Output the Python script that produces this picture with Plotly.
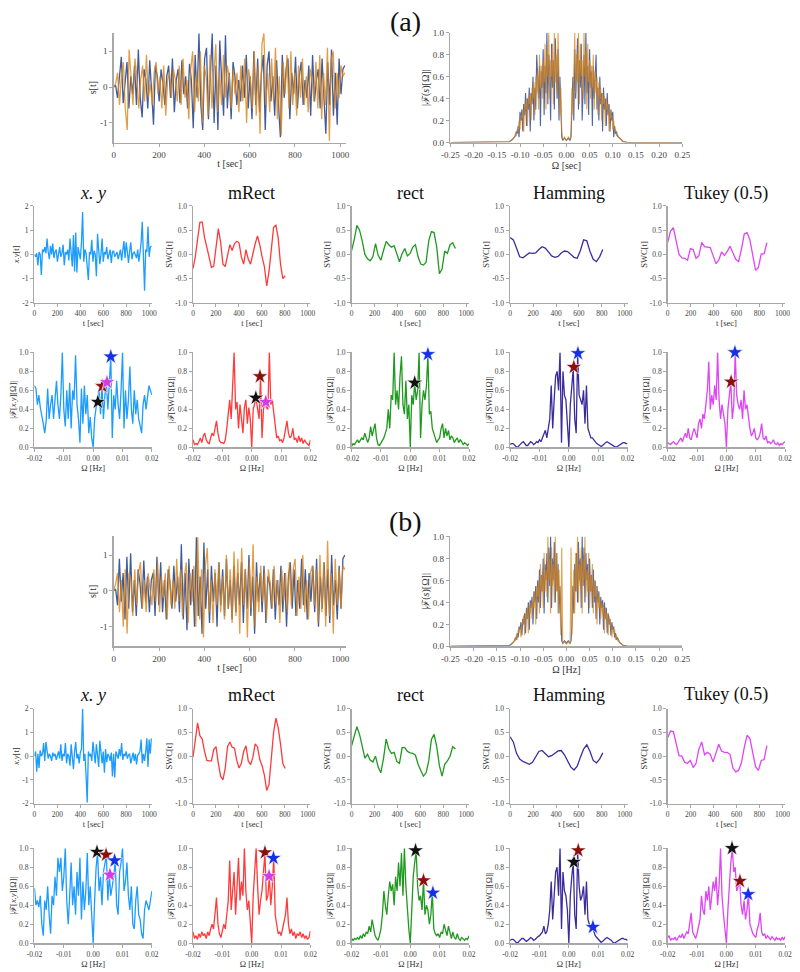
import numpy as np
import plotly.graph_objects as go

W, H = 800, 972
SERIF = "Liberation Serif"

# ---------------- data: top signals s[t] (sampled every 8 s) ----------------
a_s_blue = [0.0, 0.05, -0.3, 0.4, 0.85, -0.45, 0.2, 0.7, -0.6, 0.3, -0.2, 0.6, -0.5, 1.05, -0.3, -0.85, 0.5, 0.2, -0.6, 0.75,
            -0.1, -1.05, 0.6, 0.3, -0.4, 0.5, 0.1, -0.5, 0.3, 0.6, -0.3, 0.8, -0.7, 0.2, 0.5, -0.45, 0.75, -0.2, 0.3, -0.6,
            0.65, 0.2, -1.15, 0.9, -0.3, 1.5, -0.5, -1.2, 0.8, 1.1, -0.9, 0.3, 1.5, -1.0, 0.6, -1.2, 1.3, 0.2, -0.8, 1.45,
            -0.6, 0.4, -0.9, 0.7, 0.3, -0.5, 0.2, -0.4, 0.6, -0.3, 0.9, -0.6, 0.3, -0.9, 1.0, -0.5, 0.8, -0.7, 0.4, 0.9,
            -1.2, 0.6, 1.0, -0.4, 0.3, -0.8, 0.75, -0.5, -1.4, 0.9, -0.3, 0.5, 0.8, -0.9, 0.4, -0.2, 0.85, -0.6, 0.3, 0.7,
            -0.5, 0.2, -0.3, 0.6, -0.8, 0.9, -0.4, 0.2, 0.5, -0.6, 0.8, -0.3, -1.3, 0.7, -0.5, 1.05, -0.8, 0.4, -1.05, 0.8,
            -0.2, 0.5, 0.6]
a_s_orange = [0.0, 0.1, 0.4, -0.5, 0.3, 0.7, -0.6, -1.2, 1.05, 0.2, -0.5, 0.8, 0.3, -0.6, 0.2, 0.6, -0.4, 0.9, -0.3, 0.1,
              -0.5, 0.4, 0.7, -0.2, 0.3, -0.6, 0.6, -0.8, 0.2, 0.4, -0.3, 0.5, 0.2, -0.4, 0.6, -0.5, 0.8, -0.3, 0.2, -0.9,
              0.5, 1.0, -0.7, 0.4, -0.4, 1.0, -1.0, 0.6, 0.3, -0.8, 0.9, -0.6, 0.2, 1.2, -0.7, 0.4, -0.5, 0.9, -0.3, 0.6,
              0.3, -0.6, 0.5, -0.2, 0.4, -0.7, 0.6, -0.4, 0.8, -1.0, 0.5, 0.2, -0.6, 1.0, -0.8, 0.6, -1.3, 1.2, 1.5, -0.5,
              0.4, -0.7, 0.8, -0.4, 1.1, -0.9, 0.3, -1.35, 0.7, -0.2, 0.9, -0.6, 1.0, -0.5, 0.4, -0.8, 0.6, -0.3, 0.8, -0.5,
              0.3, -0.7, 0.5, 0.2, -0.4, 0.7, -0.6, 0.9, -0.9, 0.4, -0.5, 1.1, -1.5, 0.8, 1.0, -0.6, 0.4, -0.3, 0.6, 0.3,
              0.4]
b_s_blue = [0.0, 0.05, -0.4, 0.9, -0.3, 0.5, -0.8, 0.95, -0.5, 1.05, -0.6, 0.3, -0.7, 0.6, 0.2, -0.5, 0.85, -0.3, 0.4, -0.6,
            0.3, 0.5, -0.7, 0.95, -0.4, 0.8, -0.6, 0.3, -0.8, 0.6, 0.2, -0.5, 0.7, -0.3, 0.4, -0.6, 1.3, -0.8, 0.5, -1.1,
            0.9, -0.4, 0.6, -1.0, 1.5, -0.7, 0.4, -1.2, 1.35, -0.5, 0.6, -0.9, 0.7, -0.3, 0.5, -1.0, 0.8, -0.4, 0.6, -0.7,
            0.9, -0.5, 0.3, -0.8, 0.7, -0.6, 0.5, -0.4, 0.8, -0.9, 0.6, -0.5, 1.0, -0.7, 0.4, -1.2, 0.8, -0.3, 0.5, -0.6,
            0.7, -0.9, 0.4, 0.2, -0.5, 0.6, -0.8, 0.3, -0.4, 0.7, -0.6, 0.5, -1.0, 0.4, 0.8, -0.5, 0.6, -0.7, 0.3, -0.5,
            0.9, -0.4, 0.6, -0.8, 0.5, -0.3, 0.7, -0.6, 0.9, -1.0, 0.4, -0.5, 0.8, -0.7, 0.6, -0.9, 1.0, -0.4, 0.3, -0.8,
            0.7, -0.5, 0.9, 1.0]
b_s_orange = [0.0, 0.2, 0.5, -0.6, 0.3, -1.0, 0.6, -1.2, 0.5, 0.3, -0.7, 0.6, -0.4, 0.5, 0.8, -0.5, 0.3, -0.6, 0.5, 0.1,
              -0.4, 0.6, -0.3, 0.8, -0.6, 0.4, -0.2, 0.5, -0.8, 0.7, -0.4, 0.3, -0.5, 0.9, -0.3, 0.6, -0.7, 0.4, 0.8, -0.9,
              0.5, -0.3, 0.7, -1.0, 1.5, -0.8, 0.6, -1.3, 0.7, 1.2, -0.6, 0.3, -0.9, 0.6, -0.4, 0.8, -0.6, 0.4, -0.8, 1.0,
              -0.5, 0.6, -0.9, 1.1, -0.7, 0.9, -1.2, 1.2, -0.4, 0.6, -1.3, 0.8, -0.5, 1.3, -1.0, 0.4, -0.6, 0.7, -0.3, 0.5,
              -0.8, 0.6, 0.2, -0.5, 0.7, -0.4, 0.3, -0.9, 0.6, -0.3, 0.5, -0.6, 0.8, -0.4, 0.6, 0.9, -0.7, 0.4, -0.5, 1.0,
              -0.6, 0.3, -0.8, 0.5, 0.7, -0.4, 0.6, -0.9, 1.0, -0.6, 0.8, -1.0, 1.4, -0.7, 0.5, -1.2, 0.9, -0.4, 0.6, -0.5,
              0.7, 0.6]
s_t_end = 1020

# ---------------- data: top spectra |F(s)|, positive half 0..0.13 (step 0.002) ----------------
a_F_blue = [0.02, 0.03, 0.04, 0.03, 0.02, 0.05, 0.3, 0.6, 0.2, 0.85, 0.4, 0.7, 0.95, 0.3, 0.75, 0.5, 0.9, 0.2, 0.65, 0.8,
            0.35, 1.0, 0.45, 0.7, 0.25, 0.85, 0.5, 0.65, 0.15, 0.7, 0.4, 0.55, 0.8, 0.3, 0.5, 0.2, 0.6, 0.35, 0.45, 0.1,
            0.5, 0.3, 0.4, 0.15, 0.45, 0.25, 0.35, 0.1, 0.3, 0.2, 0.28, 0.05, 0.15, 0.08, 0.1, 0.06, 0.05, 0.04, 0.03, 0.02,
            0.015, 0.01, 0.008, 0.005, 0.003, 0.002]
a_F_orange = [0.02, 0.03, 0.05, 0.04, 0.03, 0.1, 0.5, 0.25, 0.7, 1.0, 0.45, 0.8, 0.55, 1.0, 0.35, 0.9, 0.6, 0.75, 0.4, 1.0,
              0.6, 0.85, 0.3, 0.9, 0.55, 0.75, 0.4, 0.7, 0.5, 0.8, 0.3, 0.65, 0.45, 0.6, 0.25, 0.55, 0.4, 0.5, 0.2, 0.45,
              0.35, 0.42, 0.15, 0.4, 0.3, 0.35, 0.1, 0.3, 0.22, 0.25, 0.12, 0.2, 0.1, 0.12, 0.06, 0.08, 0.05, 0.04, 0.03, 0.02,
              0.015, 0.01, 0.008, 0.005, 0.003, 0.002]
b_F_blue = [0.03, 0.04, 0.05, 0.04, 0.03, 0.05, 0.2, 0.55, 0.3, 0.75, 0.5, 0.85, 0.4, 0.95, 0.6, 0.8, 0.35, 1.0, 0.55, 0.9,
            0.4, 0.85, 0.6, 0.75, 0.3, 0.8, 0.5, 0.65, 0.35, 0.7, 0.4, 0.6, 0.25, 0.55, 0.4, 0.5, 0.2, 0.45, 0.35, 0.42,
            0.15, 0.4, 0.25, 0.35, 0.12, 0.3, 0.2, 0.25, 0.1, 0.22, 0.15, 0.18, 0.08, 0.12, 0.06, 0.08, 0.05, 0.04, 0.03, 0.02,
            0.015, 0.01, 0.008, 0.005, 0.003, 0.002]
b_F_orange = [0.02, 0.03, 0.04, 0.03, 0.02, 0.9, 0.1, 0.45, 0.7, 0.3, 0.85, 0.5, 1.0, 0.4, 0.75, 0.55, 0.9, 0.3, 0.8, 0.6,
              1.0, 0.45, 0.7, 0.5, 0.85, 0.35, 0.65, 0.5, 0.75, 0.3, 0.6, 0.45, 0.55, 0.2, 0.5, 0.35, 0.45, 0.25, 0.4, 0.3,
              0.38, 0.12, 0.35, 0.25, 0.3, 0.1, 0.28, 0.2, 0.22, 0.08, 0.18, 0.12, 0.15, 0.06, 0.1, 0.05, 0.06, 0.04, 0.03, 0.02,
              0.015, 0.01, 0.008, 0.005, 0.003, 0.002]
F_half_end = 0.13
F_tail_omega = 0.25
F_tail_value = 0.0

# ---------------- data: x.y and SWC time series ----------------
methods = ["x.y", "mRect", "rect", "Hamming", "Tukey (0.5)"]
t_end = [1020, 803, 905, 808, 865]

a_xy_t = [0.0, -0.1, 0.05, -0.45, 0.1, 0.0, -0.85, 0.2, 0.1, 0.3,
          0.05, 0.65, 0.1, -0.2, 0.35, 0.0, 0.45, -0.15, 0.1, 0.2,
          -0.3, 0.1, 0.3, -0.1, 0.05, 0.4, -0.45, 0.1, 0.0, 0.2,
          -0.25, 0.65, 0.1, -0.5, 0.8, -0.7, 0.9, -0.75, 0.3, 0.1,
          -0.2, 0.5, 1.75, -0.3, 0.2, 0.05, -0.5, -1.05, 0.1, 0.0,
          0.6, -0.3, 0.15, 0.0, -0.9, 0.85, 0.2, -0.4, 0.0, 0.65,
          -0.3, 0.1, 0.0, 0.3, -0.2, 0.05, 0.2, -0.35, 0.1, 0.15,
          -0.1, 0.0, 0.1, -0.2, 0.05, 0.2, -0.25, 0.1, 0.55, -0.15,
          0.5, 0.1, -0.35, 0.15, 0.5, -0.2, 0.05, 0.1, 0.0, -0.15,
          0.2, -0.3, 0.05, 0.5, 1.35, -0.2, -1.5, 0.2, 0.1, 1.15,
          -0.1, 0.3, 0.35]
a_mrect_t = [-0.29, -0.05, 0.32, 0.66, 0.67, 0.35, 0.15, -0.1, -0.27, -0.24, 0.15, 0.53, 0.25, -0.2, -0.25, -0.05, 0.2,
             0.08, 0.22, 0.27, 0.24, -0.05, -0.2, 0.1, -0.1, -0.2, 0.02, 0.22, 0.38, 0.2, -0.05, -0.25, -0.65, -0.36, 0.1,
             0.56, 0.6, 0.34, -0.2, -0.5, -0.44]
a_rect_t = [0.08, 0.3, 0.6, 0.5, 0.28, 0.0, -0.09, -0.13, -0.05, 0.22, -0.02, -0.12, 0.08, 0.27, 0.2, 0.15, 0.18, 0.01,
            -0.15, 0.02, 0.12, -0.03, 0.02, 0.15, 0.2, -0.05, -0.2, -0.22, -0.16, 0.28, 0.47, 0.45, 0.15, -0.4, -0.3, 0.07,
            0.02, 0.2, 0.24, 0.12]
a_hamming_t = [0.35, 0.3, 0.13, -0.05, -0.07, -0.02, 0.03, 0.02, 0.03, 0.1, 0.16, 0.13, 0.06, -0.03, -0.06, -0.04, 0.03,
               0.07, 0.06, 0.0, -0.06, -0.08, 0.08, 0.3, 0.28, 0.06, -0.1, -0.15, -0.05, 0.1]
a_tukey_t = [0.25, 0.48, 0.55, 0.3, 0.0, -0.07, -0.08, -0.12, 0.12, 0.1, -0.08, -0.03, 0.25, 0.16, 0.15, 0.14, -0.02, -0.19,
             -0.12, 0.05, -0.02, 0.06, 0.17, 0.05, -0.1, -0.15, 0.1, 0.42, 0.45, 0.3, -0.02, -0.33, -0.27, 0.01, 0.01, 0.24]

b_xy_t = [0.0, 0.2, -0.65, 0.1, -0.5, 0.25, 0.0, 0.1, 0.55, -0.2,
          0.6, 0.3, -0.1, 0.1, 0.0, -0.2, 0.15, 0.0, 0.1, -0.15,
          0.05, 0.2, -0.1, 0.5, -0.2, 0.1, 0.0, 0.55, -0.3, 0.1,
          0.0, -0.4, 0.5, -0.1, -0.55, 0.2, 0.6, -0.1, 0.1, -0.3,
          0.15, 0.3, 2.0, -0.2, 0.1, -0.8, -1.95, 0.2, 0.0, 0.1,
          -0.2, 0.6, 0.0, -0.3, 0.5, 0.1, -0.45, 0.65, 0.1, -0.3,
          0.2, -0.7, 0.3, -0.25, 0.1, 0.0, -0.2, 0.15, -0.85, 0.1,
          -0.9, 0.2, 0.05, -0.1, 0.3, 0.0, 0.55, -0.15, 0.1, 0.0,
          0.2, -0.1, 0.05, 0.1, -0.3, 0.0, 0.15, -0.2, 0.1, -0.35,
          0.05, 0.1, 0.2, 0.7, -0.3, 0.1, -0.2, 0.2, 0.75, -0.45,
          0.7, 0.1, 0.75]
b_mrect_t = [-0.02, 0.39, 0.7, 0.43, 0.36, 0.1, -0.09, -0.1, -0.1, 0.14, 0.2, -0.15, -0.42, -0.5, -0.25, 0.2, 0.3, 0.19,
             0.17, -0.09, -0.25, -0.15, 0.1, 0.22, -0.1, -0.18, -0.02, 0.26, 0.2, -0.07, -0.2, -0.4, -0.72, -0.6, 0.0, 0.5,
             0.8, 0.6, 0.26, -0.15, -0.26]
b_rect_t = [0.22, 0.4, 0.62, 0.46, 0.24, -0.04, 0.04, -0.08, -0.12, 0.0, -0.23, -0.35, -0.05, 0.36, 0.15, 0.06, 0.08, -0.11,
            -0.15, 0.18, 0.18, 0.1, 0.07, 0.06, 0.02, -0.17, -0.3, -0.42, -0.35, -0.1, 0.35, 0.46, 0.2, -0.2, -0.42, -0.17,
            -0.1, 0.0, 0.2, 0.15]
b_hamming_t = [0.41, 0.3, 0.06, -0.06, -0.11, -0.14, -0.17, -0.13, -0.02, 0.1, 0.12, 0.05, -0.01, 0.01, 0.07, 0.11, 0.12,
               0.03, -0.1, -0.23, -0.29, -0.21, -0.02, 0.15, 0.24, 0.1, -0.09, -0.14, -0.06, 0.07]
b_tukey_t = [0.39, 0.53, 0.52, 0.25, 0.01, 0.0, -0.13, -0.15, -0.09, -0.24, -0.15, 0.15, 0.3, 0.03, 0.08, 0.04, -0.12, 0.06,
             0.25, 0.11, 0.08, 0.08, 0.04, -0.25, -0.33, -0.3, -0.14, 0.18, 0.44, 0.37, 0.07, -0.22, -0.3, -0.09, -0.07, 0.22]

# ---------------- data: spectra, Omega = -0.02..0.02 step 0.0005 ----------------
a_xy_F = [0.65, 0.62, 0.45, 0.55, 0.42, 0.35, 0.25, 0.15, 0.28, 0.62, 0.3, 0.45, 0.55, 0.3, 0.5, 0.7, 0.45, 0.3, 0.55, 1.0,
          0.4, 0.22, 0.6, 0.3, 0.68, 0.2, 0.6, 0.5, 0.97, 0.45, 0.3, 0.05, 0.62, 0.25, 0.65, 0.35, 0.55, 0.15, 0.32, 0.1,
          0.0, 0.3, 0.42, 0.48, 0.6, 0.35, 0.64, 0.3, 0.55, 0.68, 0.4, 0.7, 0.955, 0.1, 0.55, 0.4, 0.7, 0.45, 0.3, 0.6,
          1.0, 0.2, 0.6, 0.3, 0.5, 0.85, 0.4, 0.25, 0.6, 0.35, 0.5, 0.3, 0.2, 0.15, 0.45, 0.55, 0.4, 0.5, 0.65, 0.6, 0.55]
a_mrect_F = [0.08, 0.03, 0.04, 0.03, 0.06, 0.1, 0.05, 0.12, 0.15, 0.08, 0.05, 0.04, 0.1, 0.15, 0.12, 0.2, 0.28, 0.15, 0.07,
             0.05, 0.05, 0.04, 0.08, 0.2, 0.35, 0.5, 0.3, 0.6, 1.0, 0.4, 0.48, 0.2, 0.45, 0.3, 0.15, 0.42, 0.5, 0.25, 0.42,
             0.3, 0.0, 0.4, 0.45, 0.52, 0.4, 0.3, 0.75, 0.1, 0.4, 0.48, 0.42, 0.4, 1.0, 0.45, 0.5, 0.38, 0.2, 0.1, 0.12, 0.07,
             0.08, 0.05, 0.1, 0.18, 0.28, 0.15, 0.1, 0.12, 0.2, 0.08, 0.1, 0.05, 0.12, 0.06, 0.1, 0.04, 0.08, 0.05, 0.03,
             0.02, 0.08]
a_rect_F = [0.01, 0.04, 0.03, 0.06, 0.08, 0.05, 0.07, 0.1, 0.08, 0.15, 0.1, 0.05, 0.1, 0.22, 0.12, 0.2, 0.25, 0.1, 0.03, 0.02,
            0.05, 0.08, 0.1, 0.15, 0.2, 0.4, 0.2, 0.55, 0.5, 1.0, 0.45, 0.6, 0.4, 0.75, 0.96, 0.45, 0.35, 0.7, 0.3, 0.45,
            0.0, 0.55, 0.45, 0.68, 0.5, 0.6, 1.0, 0.1, 0.45, 0.6, 0.5, 0.65, 0.97, 0.35, 0.38, 0.2, 0.15, 0.12, 0.05, 0.08,
            0.1, 0.2, 0.25, 0.1, 0.2, 0.12, 0.18, 0.08, 0.12, 0.1, 0.05, 0.08, 0.1, 0.05, 0.08, 0.06, 0.03, 0.05, 0.03, 0.02,
            0.04]
a_hamming_F = [0.03, 0.04, 0.04, 0.02, 0.01, 0.0, 0.02, 0.04, 0.05, 0.06, 0.04, 0.02, 0.02, 0.04, 0.06, 0.05, 0.03, 0.04,
               0.06, 0.05, 0.08, 0.06, 0.1, 0.15, 0.18, 0.1, 0.2, 0.3, 0.65, 0.2, 0.5, 0.75, 0.8, 0.6, 1.0, 0.05, 0.8, 0.55,
               0.5, 0.3, 0.0, 0.45, 0.7, 0.83, 0.3, 0.15, 0.98, 0.55, 0.5, 0.45, 0.6, 0.25, 0.65, 0.2, 0.15, 0.1, 0.1, 0.08,
               0.05, 0.04, 0.03, 0.02, 0.01, 0.02, 0.04, 0.05, 0.06, 0.05, 0.04, 0.03, 0.02, 0.01, 0.0, 0.01, 0.02, 0.03,
               0.04, 0.05, 0.05, 0.04, 0.04]
a_tukey_F = [0.05, 0.04, 0.03, 0.05, 0.06, 0.04, 0.03, 0.05, 0.08, 0.1, 0.06, 0.12, 0.15, 0.1, 0.2, 0.1, 0.08, 0.15, 0.2,
             0.15, 0.1, 0.25, 0.3, 0.2, 0.35, 0.3, 0.45, 0.6, 0.9, 0.4, 0.55, 0.45, 0.65, 0.5, 1.0, 0.5, 0.3, 0.45, 0.35,
             0.25, 0.0, 0.4, 0.55, 0.68, 0.3, 0.45, 1.0, 0.55, 0.45, 0.4, 0.5, 0.3, 0.6, 0.4, 0.45, 0.3, 0.2, 0.12, 0.15,
             0.2, 0.1, 0.08, 0.1, 0.15, 0.25, 0.1, 0.08, 0.12, 0.05, 0.06, 0.04, 0.05, 0.08, 0.04, 0.03, 0.05, 0.02, 0.04,
             0.03, 0.05, 0.06]

b_xy_F = [0.58, 0.4, 0.45, 0.38, 0.5, 0.2, 0.08, 0.45, 0.35, 0.6, 0.3, 0.1, 0.5, 0.4, 0.7, 0.5, 0.9, 0.75, 0.9, 0.55,
          0.7, 1.0, 0.45, 0.2, 0.5, 0.85, 0.4, 0.6, 0.3, 0.75, 0.5, 0.9, 0.25, 0.65, 0.35, 0.55, 0.95, 0.4, 0.6, 0.2,
          0.0, 0.45, 0.8, 0.95, 0.55, 0.7, 0.4, 0.75, 0.85, 0.93, 0.45, 0.72, 0.5, 0.6, 0.7, 0.87, 0.4, 0.3, 0.75, 0.85,
          1.0, 0.55, 0.65, 0.85, 0.5, 0.35, 0.6, 0.2, 0.15, 0.45, 0.6, 0.3, 0.25, 0.1, 0.05, 0.35, 0.45, 0.4, 0.35, 0.45,
          0.55]
b_mrect_F = [0.12, 0.05, 0.08, 0.04, 0.1, 0.06, 0.12, 0.08, 0.1, 0.05, 0.12, 0.08, 0.15, 0.2, 0.15, 0.3, 0.48, 0.2, 0.1,
             0.06, 0.12, 0.2, 0.15, 0.3, 0.45, 0.87, 0.35, 0.55, 0.75, 0.3, 0.6, 0.9, 0.45, 0.65, 0.5, 1.0, 0.55, 0.35,
             0.45, 0.25, 0.0, 0.5, 0.7, 1.0, 0.6, 0.3, 0.45, 0.55, 0.75, 0.95, 0.45, 0.5, 0.7, 0.4, 0.6, 0.9, 0.3, 0.2, 0.1,
             0.12, 0.08, 0.15, 0.25, 0.3, 0.48, 0.2, 0.1, 0.15, 0.08, 0.12, 0.05, 0.1, 0.08, 0.12, 0.06, 0.1, 0.05, 0.08,
             0.04, 0.06, 0.13]
b_rect_F = [0.05, 0.03, 0.05, 0.04, 0.06, 0.04, 0.08, 0.05, 0.1, 0.07, 0.12, 0.1, 0.18, 0.12, 0.25, 0.15, 0.08, 0.05, 0.03,
            0.08, 0.15, 0.3, 0.55, 0.4, 0.3, 0.5, 0.65, 0.55, 0.62, 0.4, 0.7, 0.55, 0.85, 0.6, 0.95, 0.5, 1.0, 0.6, 0.3,
            0.15, 0.0, 0.4, 0.7, 0.85, 0.97, 0.6, 0.45, 0.5, 0.35, 0.66, 0.3, 0.4, 0.35, 0.2, 0.3, 0.53, 0.15, 0.1, 0.08,
            0.1, 0.06, 0.12, 0.1, 0.2, 0.12, 0.08, 0.18, 0.1, 0.05, 0.12, 0.06, 0.04, 0.1, 0.05, 0.03, 0.06, 0.04, 0.03,
            0.05, 0.04, 0.08]
b_hamming_F = [0.03, 0.04, 0.04, 0.03, 0.01, 0.0, 0.02, 0.04, 0.05, 0.05, 0.03, 0.02, 0.03, 0.05, 0.06, 0.05, 0.03, 0.04,
               0.06, 0.07, 0.08, 0.1, 0.12, 0.18, 0.1, 0.12, 0.2, 0.35, 0.65, 0.25, 0.55, 0.75, 0.8, 0.5, 1.0, 0.15, 0.75,
               0.55, 0.5, 0.35, 0.0, 0.5, 0.7, 0.85, 0.3, 0.15, 0.97, 0.6, 0.45, 0.5, 0.6, 0.3, 0.65, 0.25, 0.2, 0.15, 0.17,
               0.12, 0.08, 0.06, 0.04, 0.02, 0.01, 0.02, 0.04, 0.05, 0.06, 0.05, 0.04, 0.03, 0.01, 0.0, 0.01, 0.02, 0.03,
               0.04, 0.05, 0.05, 0.04, 0.04, 0.03]
b_tukey_F = [0.06, 0.08, 0.03, 0.05, 0.04, 0.06, 0.03, 0.05, 0.08, 0.06, 0.1, 0.05, 0.08, 0.12, 0.1, 0.2, 0.32, 0.12, 0.08,
             0.05, 0.1, 0.2, 0.25, 0.5, 0.35, 0.3, 0.55, 0.45, 0.6, 0.35, 0.5, 0.65, 0.55, 0.7, 0.4, 0.6, 1.0, 0.5, 0.3,
             0.15, 0.0, 0.35, 0.65, 0.85, 1.0, 0.75, 0.8, 0.55, 0.6, 0.66, 0.4, 0.3, 0.45, 0.25, 0.35, 0.52, 0.2, 0.15, 0.1,
             0.08, 0.06, 0.15, 0.2, 0.32, 0.12, 0.08, 0.1, 0.05, 0.08, 0.06, 0.04, 0.07, 0.05, 0.03, 0.06, 0.04, 0.05, 0.03,
             0.06, 0.04, 0.07]
omega_lo, omega_hi = -0.02, 0.02

# ---------------- data: star markers (colour, Omega, |F|) per spectrum panel ----------------
a_stars = [
    [("blue", 0.0060, 0.955), ("darkred", 0.0031, 0.644), ("magenta", 0.0047, 0.685), ("black", 0.0016, 0.478)],
    [("blue", 0.0059, 1.01), ("darkred", 0.0028, 0.747), ("black", 0.0014, 0.522), ("magenta", 0.0048, 0.478)],
    [("darkred", 0.0031, 1.02), ("blue", 0.0060, 0.98), ("black", 0.0015, 0.68)],
    [("blue", 0.0031, 0.99), ("darkred", 0.0017, 0.845)],
    [("blue", 0.0029, 1.0), ("darkred", 0.0016, 0.69)],
]
b_stars = [
    [("black", 0.0013, 0.96), ("darkred", 0.0044, 0.93), ("blue", 0.0073, 0.87), ("magenta", 0.0057, 0.72)],
    [("black", 0.0017, 1.01), ("darkred", 0.0045, 0.955), ("blue", 0.0074, 0.896), ("magenta", 0.0059, 0.706)],
    [("black", 0.0018, 0.976), ("darkred", 0.0045, 0.66), ("blue", 0.0077, 0.53)],
    [("black", 0.0017, 0.855), ("darkred", 0.0032, 0.976), ("blue", 0.0082, 0.17)],
    [("black", 0.0019, 1.0), ("darkred", 0.0046, 0.654), ("blue", 0.0074, 0.515)],
]

# ---------------- styles ----------------
line_colors = ["#1c9cff", "#ff3a3a", "#1f991f", "#3b2c9e", "#de45f4"]
star_colors = {"blue": "#1530e6", "darkred": "#8a0f0f", "black": "#111111", "magenta": "#d23be6"}
sig_blue, sig_orange = "#1f3e8c", "#d9861a"

col_left = [26, 188, 350, 512, 673]
col_w = 120

fig = go.Figure()
layout = dict(width=W, height=H, margin=dict(l=0, r=0, t=0, b=0), paper_bgcolor="white",
              plot_bgcolor="white", showlegend=False, font=dict(family=SERIF, color="#444"))
annotations = []
axis_count = [0]


def fmt(v, d):
    return f"{v:.{d}f}"


def add_axes(x0, x1, y0, y1, xr, yr, xtv, xd, ytv, yd, xtitle, ytitle, fs, tfs):
    axis_count[0] += 1
    n = axis_count[0]
    s = "" if n == 1 else str(n)
    common = dict(showline=True, linecolor="#a8a8a8", linewidth=1.5, ticks="outside", ticklen=3,
                  tickcolor="#a8a8a8", tickwidth=1, showgrid=False, zeroline=False, fixedrange=True,
                  tickfont=dict(size=fs, family=SERIF, color="#444"))
    layout["xaxis" + s] = dict(domain=[x0 / W, x1 / W], anchor="y" + s, range=xr, tickvals=xtv,
                               ticktext=[fmt(v, xd) for v in xtv],
                               title=dict(text=xtitle, font=dict(size=tfs, family=SERIF, color="#333"), standoff=1),
                               **common)
    layout["yaxis" + s] = dict(domain=[1 - y1 / H, 1 - y0 / H], anchor="x" + s, range=yr, tickvals=ytv,
                               ticktext=[fmt(v, yd) for v in ytv],
                               title=dict(text=ytitle, font=dict(size=tfs, family=SERIF, color="#333"), standoff=1),
                               **common)
    return "x" + s, "y" + s


def mirror(half):
    half = list(half)
    f = list(np.linspace(0, F_half_end, len(half)))
    xs = [-F_tail_omega] + [-v for v in f[::-1]] + f[1:] + [F_tail_omega]
    ys = [F_tail_value] + half[::-1] + half[1:] + [F_tail_value]
    return xs, ys


def top_block(y0, y1, blue, orange, Fb, Fo, om_label):
    xa, ya = add_axes(107, 344, y0, y1, [0, 1024], [-1.55, 1.52], [0, 200, 400, 600, 800, 1000], 0,
                      [-1, 0, 1], 0, "t [sec]", "s[t]", 9, 10)
    tb = np.linspace(0, s_t_end, len(blue))
    to = np.linspace(0, s_t_end, len(orange))
    fig.add_trace(go.Scatter(x=tb, y=blue, mode="lines", line=dict(color=sig_blue, width=1.3),
                             opacity=0.85, xaxis=xa, yaxis=ya))
    fig.add_trace(go.Scatter(x=to, y=orange, mode="lines", line=dict(color=sig_orange, width=1.3),
                             opacity=0.8, xaxis=xa, yaxis=ya))
    xb, yb = add_axes(451, 688, y0, y1, [-0.25, 0.25], [0, 1],
                      [-0.25, -0.2, -0.15, -0.1, -0.05, 0.0, 0.05, 0.1, 0.15, 0.2, 0.25], 2,
                      [0, 0.2, 0.4, 0.6, 0.8, 1.0], 1, om_label, "|ℱ(<i>s</i>)[Ω]|", 9, 10)
    fx, fy = mirror(Fb)
    fig.add_trace(go.Scatter(x=fx, y=fy, mode="lines", line=dict(color=sig_blue, width=1.1),
                             opacity=0.8, xaxis=xb, yaxis=yb))
    fx, fy = mirror(Fo)
    fig.add_trace(go.Scatter(x=fx, y=fy, mode="lines", line=dict(color=sig_orange, width=1.1),
                             opacity=0.75, xaxis=xb, yaxis=yb))


def column_rows(yt0, yt1, yf0, yf1, title_y, series_t, series_F, stars):
    om = np.linspace(omega_lo, omega_hi, len(series_F[0]))
    for k in range(5):
        x0 = col_left[k]
        x1 = x0 + col_w
        if k == 0:
            yr, ytv, yd, ytitle = [-2, 2], [-2, -1, 0, 1, 2], 0, "<i>x.y</i>[t]"
        else:
            yr, ytv, yd, ytitle = [-1, 1], [-1.0, -0.5, 0.0, 0.5, 1.0], 1, "SWC[t]"
        xa, ya = add_axes(x0, x1, yt0, yt1, [0, 1024], yr, [0, 200, 400, 600, 800, 1000], 0, ytv, yd,
                          "t [sec]", ytitle, 7.5, 8.5)
        vals = series_t[k]
        t = np.linspace(0, t_end[k], len(vals))
        fig.add_trace(go.Scatter(x=t, y=vals, mode="lines", line=dict(color=line_colors[k], width=1.3),
                                 xaxis=xa, yaxis=ya))
        ftitle = "|ℱ[<i>x.y</i>][Ω]|" if k == 0 else "|ℱ[SWC][Ω]|"
        xb, yb = add_axes(x0, x1, yf0, yf1, [omega_lo, omega_hi], [0, 1], [-0.02, -0.01, 0.0, 0.01, 0.02], 2,
                          [0, 0.2, 0.4, 0.6, 0.8, 1.0], 1, "Ω [Hz]", ftitle, 7.5, 8.5)
        fig.add_trace(go.Scatter(x=om, y=series_F[k], mode="lines", line=dict(color=line_colors[k], width=1.3),
                                 xaxis=xb, yaxis=yb))
        for (c, o, v) in stars[k]:
            fig.add_trace(go.Scatter(x=[o], y=[v], mode="markers", cliponaxis=False,
                                     marker=dict(symbol="star", size=12, color=star_colors[c],
                                                 line=dict(color="rgba(255,255,255,0.75)", width=0.8)),
                                     xaxis=xb, yaxis=yb))
        annotations.append(dict(text=methods[k] if k else "<i>x. y</i>", x=(x0 + col_w / 2) / W,
                                y=1 - title_y / H, xref="paper", yref="paper", showarrow=False,
                                font=dict(size=18, family=SERIF, color="#111"), xanchor="center",
                                yanchor="middle"))


# (a)
annotations.append(dict(text="(a)", x=405 / W, y=1 - 17 / H, xref="paper", yref="paper", showarrow=False,
                        font=dict(size=28, family=SERIF, color="#111"), xanchor="center", yanchor="middle"))
top_block(28, 139, a_s_blue, a_s_orange, a_F_blue, a_F_orange, "Ω [sec]")
column_rows(203, 301, 351, 447, 190,
            [a_xy_t, a_mrect_t, a_rect_t, a_hamming_t, a_tukey_t],
            [a_xy_F, a_mrect_F, a_rect_F, a_hamming_F, a_tukey_F], a_stars)

# (b)
annotations.append(dict(text="(b)", x=405 / W, y=1 - 522 / H, xref="paper", yref="paper", showarrow=False,
                        font=dict(size=28, family=SERIF, color="#111"), xanchor="center", yanchor="middle"))
top_block(537, 648, b_s_blue, b_s_orange, b_F_blue, b_F_orange, "Ω [Hz]")
column_rows(711, 807, 852, 948, 697,
            [b_xy_t, b_mrect_t, b_rect_t, b_hamming_t, b_tukey_t],
            [b_xy_F, b_mrect_F, b_rect_F, b_hamming_F, b_tukey_F], b_stars)

layout["annotations"] = annotations
fig.update_layout(**layout)
fig.write_html("out.html",
               config={"displayModeBar": False, "staticPlot": True},
               post_script="document.body.style.margin='0';document.body.style.padding='0';"
                           "document.documentElement.style.overflow='hidden';")
